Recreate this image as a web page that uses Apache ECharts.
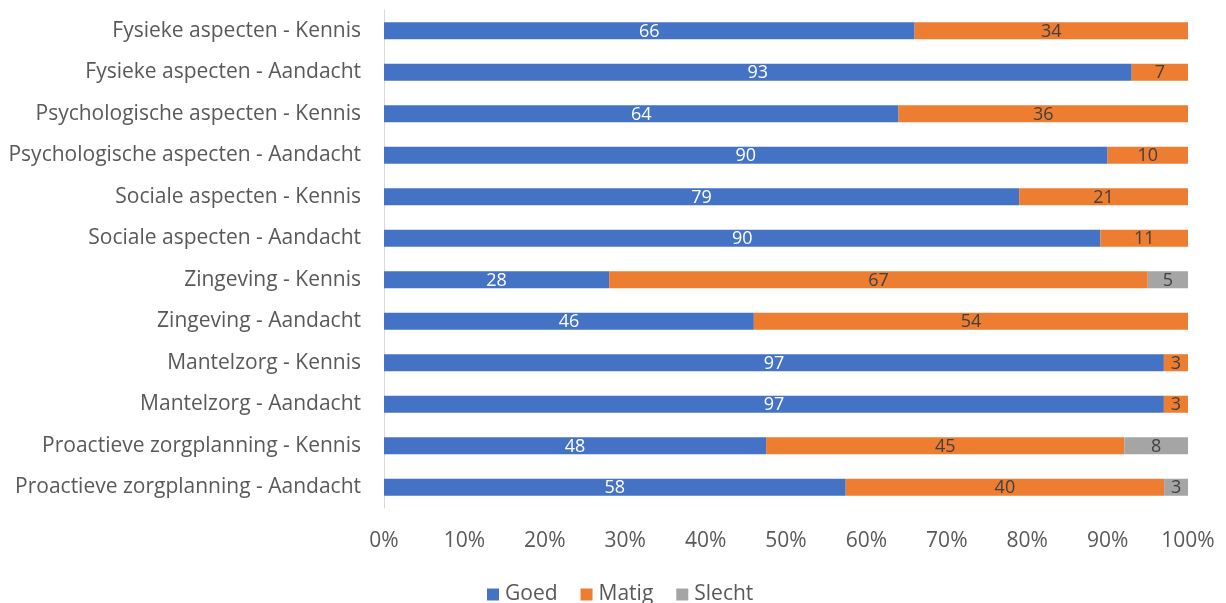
<!DOCTYPE html>
<html>
<head>
<meta charset="utf-8">
<script src="https://cdn.jsdelivr.net/npm/echarts@6/dist/echarts.min.js"></script>
<style>html,body{margin:0;padding:0;background:#fff}#c{width:1226px;height:603px}</style>
</head>
<body>
<div id="c"></div>
<script>
const categories = [
  'Fysieke aspecten - Kennis',
  'Fysieke aspecten - Aandacht',
  'Psychologische aspecten - Kennis',
  'Psychologische aspecten - Aandacht',
  'Sociale aspecten - Kennis',
  'Sociale aspecten - Aandacht',
  'Zingeving - Kennis',
  'Zingeving - Aandacht',
  'Mantelzorg - Kennis',
  'Mantelzorg - Aandacht',
  'Proactieve zorgplanning - Kennis',
  'Proactieve zorgplanning - Aandacht'
];
const goed   = [66, 93, 64, 90, 79, 90, 28, 46, 97, 97, 48, 58];
const matig  = [34, 7, 36, 10, 21, 11, 67, 54, 3, 3, 45, 40];
const slecht = [0, 0, 0, 0, 0, 0, 5, 0, 0, 0, 8, 3];
const seriesNames = ['Goed', 'Matig', 'Slecht'];
const colors = ['#4472C4', '#ED7D31', '#A5A5A5'];
const labelColors = ['#FFFFFF', '#404040', '#404040'];
const FONT = 'Open Sans';

const raw = [goed, matig, slecht];
const totals = categories.map((_, i) => goed[i] + matig[i] + slecht[i]);

const series = raw.map((arr, s) => ({
  name: seriesNames[s],
  type: 'bar',
  stack: 'total',
  barWidth: '41%',
  itemStyle: { color: colors[s] },
  data: arr.map((v, i) => ({ value: v ? v / totals[i] * 100 : null, raw: v })),
  label: {
    show: true,
    position: 'inside',
    color: labelColors[s],
    fontFamily: FONT,
    fontSize: 18,
    offset: [0, 1],
    formatter: p => (p.data && p.data.raw) ? String(p.data.raw) : ''
  }
}));

const chart = echarts.init(document.getElementById('c'));
chart.setOption({
  animation: false,
  color: colors,
  grid: { left: 384, right: 38, top: 10, bottom: 95, containLabel: false },
  legend: {
    bottom: -7,
    left: 482,
    itemWidth: 12,
    itemHeight: 12,
    itemGap: 23,
    icon: 'rect',
    textStyle: { fontFamily: FONT, fontSize: 21, color: '#595959', padding: [0, 0, 0, 1] },
    data: seriesNames
  },
  xAxis: {
    type: 'value',
    min: 0,
    max: 100,
    interval: 10,
    axisLine: { show: false },
    axisTick: { show: false },
    splitLine: { show: false },
    axisLabel: { formatter: '{value}%', fontFamily: FONT, fontSize: 21, color: '#595959', margin: 23 }
  },
  yAxis: {
    type: 'category',
    inverse: true,
    data: categories,
    axisLine: { show: true, lineStyle: { color: '#D9D9D9', width: 1 } },
    axisTick: { show: false },
    axisLabel: { fontFamily: FONT, fontSize: 21, color: '#595959', margin: 23 }
  },
  series: series
});
</script>
</body>
</html>
